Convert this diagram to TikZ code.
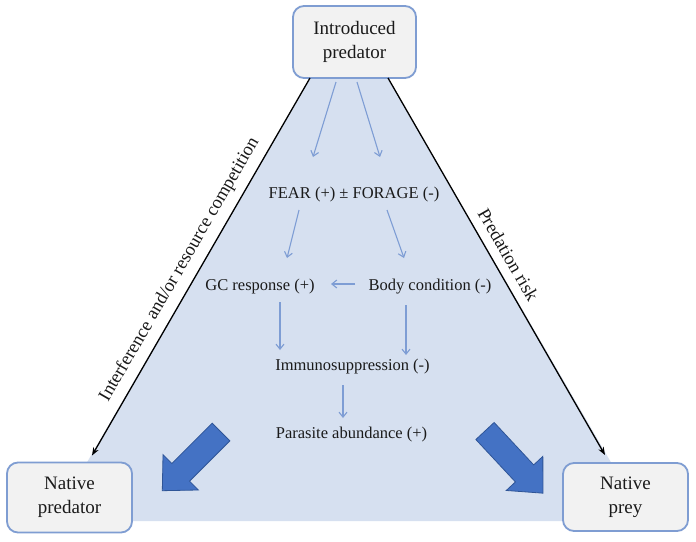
\documentclass[tikz,border=0pt]{standalone}
\usepackage{fontspec}
\setmainfont{Liberation Serif}
\usetikzlibrary{arrows.meta}
\definecolor{trifill}{HTML}{D6E0F0}
\definecolor{boxfill}{HTML}{F2F2F2}
\definecolor{boxline}{HTML}{7F9DD2}
\definecolor{smallarr}{HTML}{7E9DD4}
\definecolor{bigfill}{HTML}{4472C4}
\definecolor{bigline}{HTML}{2F5597}
\definecolor{ink}{HTML}{1A1A1A}
\begin{document}
\begin{tikzpicture}[x=1pt,y=-1pt,
  box/.style={draw=boxline, fill=boxfill, line width=1.8pt, rounded corners=11pt, inner sep=0pt, outer sep=0pt, align=center, text=ink, font=\fontsize{19}{24}\selectfont},
  lbl/.style={inner sep=0pt, outer sep=0pt, anchor=base, text=ink, font=\fontsize{16.5}{20}\selectfont, text height=12pt, text depth=4pt},
  flow/.style={draw=smallarr, line width=1.1pt, -{Straight Barb[length=5pt,width=8pt]}},
  side/.style={draw=black, line width=1.3pt, -{Stealth[length=8pt,width=6pt]}},
  sidelbl/.style={sloped, above, text=ink, font=\fontsize{18.5}{22}\selectfont},
  bigarrow/.style={fill=bigfill, draw=bigline, line width=0.8pt, line join=miter}]
\useasboundingbox (0,0) rectangle (696,541);
\fill[white] (0,0) rectangle (696,541);
\fill[trifill] (310,78) -- (388,78) -- (645,521) -- (53,521) -- cycle;

\node[box, minimum width=123pt, minimum height=72pt] (top) at (354.5,42) {Introduced\\predator};
\node[box, minimum width=125pt, minimum height=70pt] (np) at (69.5,497.5) {Native\\predator};
\node[box, minimum width=125pt, minimum height=68pt] (prey) at (625.5,497) {Native\\prey};

\draw[side] ([xshift=-44.5pt]top.south) -- node[sidelbl, inner sep=8pt, pos=0.53] {Interference and/or resource competition} ([xshift=22.5pt,yshift=7pt]np.north);
\draw[side] ([xshift=33.5pt]top.south) -- node[sidelbl, inner sep=9pt, pos=0.49] {Predation risk} ([xshift=-20.5pt,yshift=8pt]prey.north);

\node[lbl] (fear) at (354,198) {FEAR (+) ± FORAGE (-)};
\node[lbl] (gc) at (260,290) {GC response (+)};
\node[lbl] (body) at (430,290) {Body condition (-)};
\node[lbl] (imm) at (352.5,370) {Immunosuppression (-)};
\node[lbl] (par) at (351.5,438) {Parasite abundance (+)};

\draw[flow] ([xshift=-18.5pt,yshift=-4pt]top.south) -- ([xshift=-41pt,yshift=29pt]fear.north);
\draw[flow] ([xshift=2.5pt,yshift=-4pt]top.south) -- ([xshift=26pt,yshift=29pt]fear.north);
\draw[flow] ([xshift=-55pt,yshift=-8pt]fear.south) -- ([xshift=27pt,yshift=20pt]gc.north);
\draw[flow] ([xshift=33pt,yshift=-8pt]fear.south) -- ([xshift=-26pt,yshift=20pt]body.north);
\draw[flow] ([xshift=-75pt,yshift=6pt]body.base) -- ([xshift=71pt,yshift=6pt]gc.base);
\draw[flow] ([xshift=20pt,yshift=-8pt]gc.south) -- ([xshift=-72.5pt,yshift=8pt]imm.north);
\draw[flow] ([xshift=-24pt,yshift=-11pt]body.south) -- ([xshift=53.5pt,yshift=3pt]imm.north);
\draw[flow] ([xshift=-9.5pt,yshift=-11pt]imm.south) -- ([xshift=-8.5pt,yshift=8pt]par.north);

\begin{scope}[shift={(221,432)}, rotate=225]
\draw[bigarrow] (0,12.5) -- (57,12.5) -- (57,25) -- (83,0) -- (57,-25) -- (57,-12.5) -- (0,-12.5) -- cycle;
\end{scope}
\begin{scope}[shift={(485,431)}, rotate=-47]
\draw[bigarrow] (0,12.5) -- (58,12.5) -- (58,25) -- (85,0) -- (58,-25) -- (58,-12.5) -- (0,-12.5) -- cycle;
\end{scope}
\end{tikzpicture}
\end{document}
